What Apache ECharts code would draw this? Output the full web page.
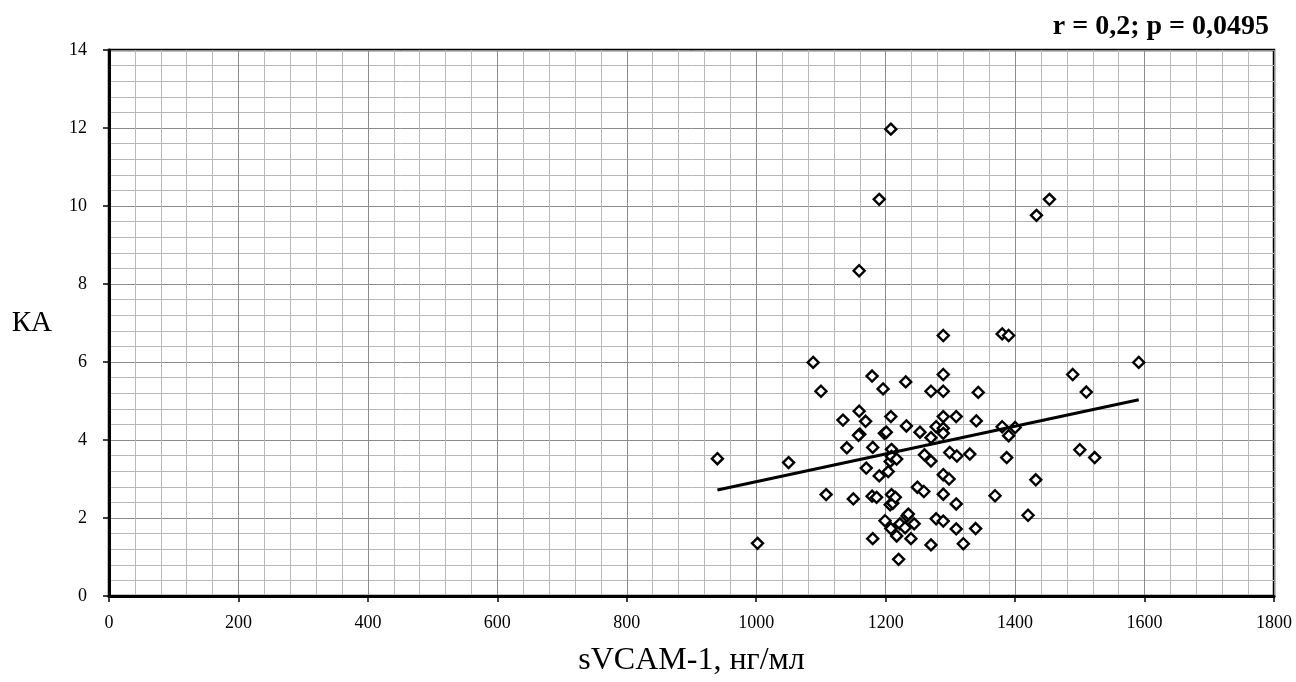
<!DOCTYPE html>
<html>
<head>
<meta charset="utf-8">
<script src="https://cdn.jsdelivr.net/npm/echarts@6/dist/echarts.min.js"></script>
<style>
  html, body { margin: 0; padding: 0; background: #fff; }
  #chart { width: 1296px; height: 682px; }
</style>
</head>
<body>
<div id="chart"></div>
<script>
  // sVCAM-1 values (x) and KA values (y)
  var vcamValues = [
    940, 1002, 1050, 1088, 1100, 1108, 1134, 1140, 1150, 1159,
    1159, 1160, 1158, 1169, 1170, 1179, 1180, 1179, 1186, 1180,
    1190, 1190, 1196, 1198, 1201, 1199, 1204, 1207, 1207, 1211,
    1208, 1208, 1208, 1209, 1209, 1209, 1215, 1217, 1217, 1220,
    1222, 1230, 1231, 1232, 1233, 1235, 1239, 1244, 1249, 1253,
    1259, 1260, 1270, 1270, 1270, 1270, 1278, 1278, 1289, 1289,
    1289, 1289, 1289, 1289, 1289, 1289, 1289, 1298, 1299, 1309,
    1310, 1309, 1309, 1320, 1330, 1340, 1343, 1339, 1369, 1380,
    1390, 1380, 1400, 1390, 1387, 1420, 1432, 1433, 1453, 1489,
    1500, 1510, 1523, 1591
  ];
  var kaValues = [
    3.52, 1.35, 3.42, 5.99, 5.25, 2.60, 4.51, 3.80, 2.49, 4.74,
    8.34, 4.15, 4.12, 4.48, 3.28, 5.64, 3.81, 2.56, 2.53, 1.47,
    3.08, 10.17, 5.31, 4.17, 4.20, 1.93, 3.19, 3.45, 2.34, 2.38,
    4.60, 11.97, 1.73, 3.76, 3.58, 2.60, 2.53, 3.51, 1.54, 0.94,
    1.85, 1.75, 5.49, 4.36, 2.05, 2.10, 1.47, 1.85, 2.79, 4.20,
    2.68, 3.62, 3.46, 4.06, 5.25, 1.31, 4.34, 1.98, 4.30, 4.60,
    4.17, 5.25, 5.68, 6.68, 3.11, 2.61, 1.92, 3.00, 3.68, 4.60,
    3.59, 2.36, 1.72, 1.34, 3.64, 4.49, 5.22, 1.73, 2.57, 6.72,
    6.68, 4.34, 4.32, 4.11, 3.55, 2.07, 2.98, 9.76, 10.17, 5.68,
    3.75, 5.23, 3.55, 5.99
  ];
  // linear trend line end points
  var trendX = [940, 1591];
  var trendY = [2.72, 5.03];

  var xTicks = { min: 0, max: 1800, interval: 200 };
  var yTicks = { min: 0, max: 14, interval: 2 };

  var points = [];
  for (var i = 0; i < vcamValues.length; i++) {
    points.push([vcamValues[i], kaValues[i]]);
  }
  var trend = [[trendX[0], trendY[0]], [trendX[1], trendY[1]]];

  var serif = '"Liberation Serif", "DejaVu Serif", serif';
  var plain = function (v) { return String(v); };

  var myChart = echarts.init(document.getElementById('chart'));
  var option = {
    animation: false,
    title: {
      text: 'r = 0,2; p = 0,0495',
      right: 22,
      top: 8,
      textStyle: { fontFamily: serif, fontSize: 28, fontWeight: 'bold', color: '#000' }
    },
    grid: {
      left: 109, right: 22, top: 50, bottom: 84,
      show: true, borderColor: '#000', borderWidth: 2.5
    },
    xAxis: {
      type: 'value',
      min: xTicks.min, max: xTicks.max, interval: xTicks.interval,
      name: 'sVCAM-1, нг/мл',
      nameLocation: 'middle',
      nameGap: 49,
      nameTextStyle: { fontFamily: serif, fontSize: 32, color: '#000' },
      axisLine: { lineStyle: { color: '#000', width: 3 } },
      axisTick: { show: true, length: 6, lineStyle: { color: '#000', width: 1.5 } },
      axisLabel: { fontFamily: serif, fontSize: 18, color: '#000', margin: 18, formatter: plain },
      splitLine: { show: true, lineStyle: { color: '#8c8c8c', width: 1 } },
      minorTick: { show: false, splitNumber: 5 },
      minorSplitLine: { show: true, lineStyle: { color: '#b8b8b8', width: 1 } }
    },
    yAxis: {
      type: 'value',
      min: yTicks.min, max: yTicks.max, interval: yTicks.interval,
      name: 'КА',
      nameLocation: 'middle',
      nameRotate: 0,
      nameGap: 57,
      nameTextStyle: { fontFamily: serif, fontSize: 29, color: '#000', padding: [0, 0, 12, 0] },
      axisLine: { show: true, lineStyle: { color: '#000', width: 3 } },
      axisTick: { show: true, length: 6, lineStyle: { color: '#000', width: 1.5 } },
      axisLabel: { fontFamily: serif, fontSize: 18, color: '#000', margin: 22, formatter: plain },
      splitLine: { show: true, lineStyle: { color: '#8c8c8c', width: 1 } },
      minorTick: { show: false, splitNumber: 5 },
      minorSplitLine: { show: true, lineStyle: { color: '#b8b8b8', width: 1 } }
    },
    series: [
      {
        name: 'KA',
        type: 'scatter',
        data: points,
        symbol: 'diamond',
        symbolSize: [11, 11],
        itemStyle: { color: '#fff', borderColor: '#000', borderWidth: 2.4, opacity: 1 },
        z: 3
      },
      {
        name: 'trend',
        type: 'line',
        data: trend,
        showSymbol: false,
        symbol: 'none',
        lineStyle: { color: '#000', width: 3 },
        z: 4
      }
    ]
  };
  myChart.setOption(option);
</script>
</body>
</html>
